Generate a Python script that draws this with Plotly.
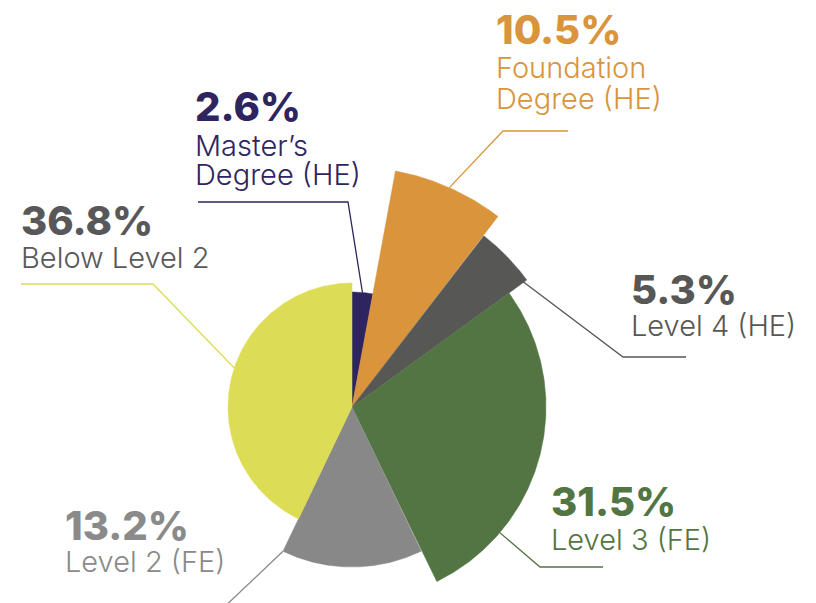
import numpy as np
import plotly.graph_objects as go

# ---------------- data ----------------
categories = ["Master's Degree (HE)", "Foundation Degree (HE)", "Level 4 (HE)",
              "Level 3 (FE)", "Level 2 (FE)", "Below Level 2"]
label_line1 = ["Master’s", "Foundation", "Level 4 (HE)", "Level 3 (FE)", "Level 2 (FE)", "Below Level 2"]
label_line2 = ["Degree (HE)", "Degree (HE)", "", "", "", ""]
percent_labels = [2.6, 10.5, 5.3, 31.5, 13.2, 36.8]
angular_share = [2.9, 7.5, 4.6, 27.8, 14.3, 42.9]      # share of the circle (%)
radial_value = [115, 240, 216, 194, 160, 124]          # sector radius value

# ---------------- styles / layout positions ----------------
slice_colors = ["#2e2460", "#d9943c", "#575756", "#527543", "#888888", "#dcdd55"]
text_colors = ["#2e2460", "#d9943c", "#575756", "#527543", "#8a8a8a", "#58585a"]
W, H = 816, 603
CX, CY = 352, 407  # pixel centre of the chart


def px(x, y):
    return x - CX, CY - y


# leader anchor as fraction across each sector, elbow & end (pixels)
anchor_frac = [0.5, 0.5, 0.97, 0.763, 1.0, 0.536]
anchor_rfrac = [1.0, 1.0, 0.98, 1.0, 1.0, 1.0]
elbows = [(348, 202), (503, 131), (623, 357), (540, 567), (226, 605), (153, 284)]
ends = [(198, 202), (568, 131), (686, 357), (603, 567), (220, 611), (21, 284)]
pct_pos = [(194, 106), (495, 29), (630, 289), (550, 501), (64, 525), (20, 220)]
line1_pos = [(194, 145), (495, 67), (630, 325), (550, 539), (64, 561), (20, 257)]
line2_pos = [(194, 174), (495, 98), None, None, None, None]

fig = go.Figure()

spans = np.array(angular_share) / sum(angular_share) * 360.0
starts = np.concatenate([[0], np.cumsum(spans)[:-1]])

for i, cat in enumerate(categories):
    a0, a1 = starts[i], starts[i] + spans[i]
    t = np.radians(np.linspace(a0, a1, 200))
    r = radial_value[i]
    xs = np.concatenate([[0], r * np.sin(t), [0]])
    ys = np.concatenate([[0], r * np.cos(t), [0]])
    fig.add_trace(go.Scatter(x=xs, y=ys, mode="lines", fill="toself",
                             fillcolor=slice_colors[i], line=dict(width=0.5, color=slice_colors[i]),
                             hoverinfo="text", text=cat, showlegend=False))

for i, cat in enumerate(categories):
    a = np.radians(starts[i] + spans[i] * anchor_frac[i])
    r = radial_value[i] * anchor_rfrac[i]
    ax, ay = r * np.sin(a), r * np.cos(a)
    ex, ey = px(*elbows[i])
    fx, fy = px(*ends[i])
    fig.add_trace(go.Scatter(x=[ax, ex, fx], y=[ay, ey, fy], mode="lines",
                             line=dict(color=slice_colors[i], width=1.3),
                             hoverinfo="skip", showlegend=False))

annotations = []
for i in range(len(categories)):
    x, y = px(*pct_pos[i])
    annotations.append(dict(x=x, y=y, xref="x", yref="y", xanchor="left", yanchor="middle",
                            text=f"{percent_labels[i]}%", showarrow=False, borderpad=0,
                            font=dict(family="Inter", size=40, color=text_colors[i], weight=800)))
    x, y = px(*line1_pos[i])
    annotations.append(dict(x=x, y=y, xref="x", yref="y", xanchor="left", yanchor="middle",
                            text=label_line1[i], showarrow=False, borderpad=0,
                            font=dict(family="Inter", size=29, color=text_colors[i], weight=300)))
    if line2_pos[i] is not None:
        x, y = px(*line2_pos[i])
        annotations.append(dict(x=x, y=y, xref="x", yref="y", xanchor="left", yanchor="middle",
                                text=label_line2[i], showarrow=False, borderpad=0,
                                font=dict(family="Inter", size=29, color=text_colors[i], weight=300)))

fig.update_layout(
    width=W, height=H,
    margin=dict(l=0, r=0, t=0, b=0),
    paper_bgcolor="white", plot_bgcolor="white",
    xaxis=dict(range=[-CX, W - CX], visible=False, fixedrange=True),
    yaxis=dict(range=[CY - H, CY], visible=False, fixedrange=True),
    annotations=annotations,
)

fig.write_html("out.html", config={"displayModeBar": False},
               post_script="document.body.style.margin='0';document.body.style.overflow='hidden';")
